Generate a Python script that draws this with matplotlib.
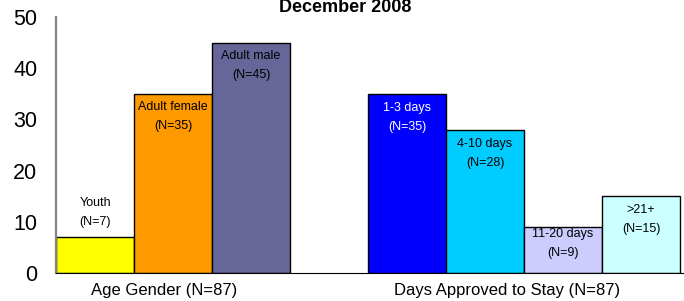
import matplotlib
matplotlib.use("Agg")
import matplotlib.pyplot as plt

plt.rcParams['font.family'] = ['Liberation Sans', 'DejaVu Sans']

# data
age_labels = ['Youth', 'Adult female', 'Adult male']
age_values = [7, 35, 45]
age_colors = ['#FFFF00', '#FF9900', '#666699']

stay_labels = ['1-3 days', '4-10 days', '11-20 days', '>21+']
stay_values = [35, 28, 9, 15]
stay_colors = ['#0000FF', '#00CCFF', '#CCCCFF', '#CCFFFF']

group_labels = ['Age Gender (N=87)', 'Days Approved to Stay (N=87)']
title = 'December 2008'

fig = plt.figure(figsize=(6.84, 3.01), dpi=100)
ax = fig.add_axes([56 / 684, 1 - 273 / 301, 1 - 56 / 684, (273 - 17) / 301])

# bar positions (unit = one bar width), gap of one bar between groups
age_x = [i + 0.5 for i in range(len(age_values))]
stay_x = [4 + i + 0.5 for i in range(len(stay_values))]

ax.bar(age_x, age_values, width=1.0, color=age_colors, edgecolor='black', linewidth=1)
ax.bar(stay_x, stay_values, width=1.0, color=stay_colors, edgecolor='black', linewidth=1)

# etiqueta de dos lineas por barra
def etiqueta(x, v, nombre, color, dy):
    ax.annotate(nombre, (x, v), xytext=(0, dy), textcoords='offset pixels',
                ha='center', va='center', fontsize=9, color=color)
    ax.annotate('(N=%d)' % v, (x, v), xytext=(0, dy - 19), textcoords='offset pixels',
                ha='center', va='center', fontsize=9, color=color)

for x, v, n in zip(age_x, age_values, age_labels):
    if v < 10:
        etiqueta(x, v, n, 'black', 34)
    else:
        etiqueta(x, v, n, 'black', -13)

for x, v, n, c in zip(stay_x, stay_values, stay_labels, stay_colors):
    col = 'white' if c == '#0000FF' else 'black'
    dy = -7 if v < 10 else -14
    etiqueta(x, v, n, col, dy)

ax.set_xlim(0, 628 / 78)
ax.set_ylim(0, 50)
ax.set_yticks([0, 10, 20, 30, 40, 50])
ax.tick_params(axis='y', length=0, pad=13.5, labelsize=15.5)
ax.set_xticks([1.38, 5.78])
ax.set_xticklabels(group_labels, fontsize=12)
ax.tick_params(axis='x', length=0, pad=7)

ax.spines['top'].set_visible(False)
ax.spines['right'].set_visible(False)
ax.spines['left'].set_color('#808080')
ax.spines['left'].set_linewidth(1.6)
ax.spines['bottom'].set_color('black')

fig.text(345 / 684, 1 - 8 / 301, title, ha='center', va='center',
         fontsize=13, fontweight='bold')

fig.savefig('out.png', dpi=100)
